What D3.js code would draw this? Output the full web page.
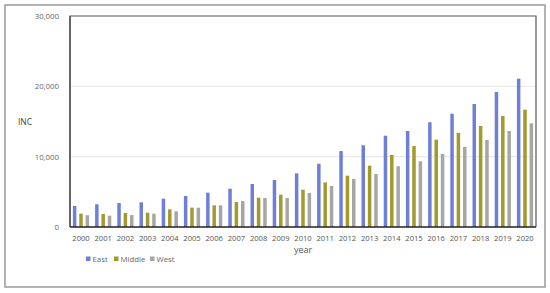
<!DOCTYPE html>
<html>
<head>
<meta charset="utf-8">
<script src="https://cdn.jsdelivr.net/npm/d3@7"></script>
<style>
  body { margin: 0; background: #fff; }
  text { font-family: "Open Sans", "DejaVu Sans", sans-serif; }
</style>
</head>
<body>
<svg id="chart" width="550" height="293"></svg>
<script>
const years = ["2000","2001","2002","2003","2004","2005","2006","2007","2008","2009","2010",
  "2011","2012","2013","2014","2015","2016","2017","2018","2019","2020"];
const series = ["East", "Middle", "West"];
const east = [3000, 3230, 3410, 3510, 4030, 4410, 4880, 5450, 6110, 6680, 7630,
  9000, 10800, 11620, 12980, 13650, 14890, 16110, 17490, 19200, 21090];
const middle = [1900, 1850, 2000, 2030, 2510, 2750, 3080, 3550, 4170, 4600, 5310,
  6350, 7300, 8720, 10240, 11520, 12420, 13370, 14360, 15780, 16680];
const west = [1680, 1610, 1700, 1900, 2230, 2750, 3080, 3700, 4120, 4120, 4830,
  5830, 6830, 7540, 8630, 9340, 10380, 11370, 12370, 13650, 14740];
const yTicks = [0, 10000, 20000, 30000];
const colors = ["#6f7fd6", "#a39a2c", "#a6a6a6"];

const values = [east, middle, west];
const svg = d3.select("#chart");

// outer frame
svg.append("rect")
  .attr("x", 5).attr("y", 5).attr("width", 540).attr("height", 282)
  .attr("fill", "none").attr("stroke", "#9a9a9a").attr("stroke-width", 1.5);

const plotLeft = 70, plotRight = 536, plotTop = 16, plotBottom = 227;

const x = d3.scaleBand().domain(years).range([plotLeft, plotRight]).paddingInner(0.27).paddingOuter(0.13);
const xs = d3.scaleBand().domain(series).range([0, x.bandwidth()]).paddingInner(0.45);
const y = d3.scaleLinear().domain([0, 30000]).range([plotBottom, plotTop]);

// gridlines
svg.append("g")
  .selectAll("line")
  .data(yTicks.slice(1, 3))
  .join("line")
  .attr("x1", plotLeft).attr("x2", plotRight)
  .attr("y1", d => y(d)).attr("y2", d => y(d))
  .attr("stroke", "#e6e6e6").attr("stroke-width", 1);

// bars
const groups = svg.append("g")
  .selectAll("g")
  .data(years)
  .join("g")
  .attr("transform", d => `translate(${x(d)},0)`);

groups.selectAll("rect")
  .data((d, i) => series.map((s, k) => ({ s, v: values[k][i], k })))
  .join("rect")
  .attr("x", d => xs(d.s))
  .attr("width", xs.bandwidth())
  .attr("y", d => y(d.v))
  .attr("height", d => plotBottom - y(d.v))
  .attr("fill", d => colors[d.k]);

// plot frame
svg.append("path")
  .attr("d", `M${plotLeft},${plotBottom}V${plotTop}H${plotRight}V${plotBottom}`)
  .attr("fill", "none").attr("stroke", "#555").attr("stroke-width", 1.2);
svg.append("line")
  .attr("x1", plotLeft).attr("x2", plotLeft).attr("y1", plotTop).attr("y2", plotBottom)
  .attr("stroke", "#666").attr("stroke-width", 2);
svg.append("line")
  .attr("x1", plotLeft).attr("x2", plotRight).attr("y1", plotBottom).attr("y2", plotBottom)
  .attr("stroke", "#222").attr("stroke-width", 1.5);

// y axis
const yAxis = svg.append("g")
  .attr("transform", `translate(${plotLeft - 8},0)`)
  .call(d3.axisLeft(y).tickValues(yTicks).tickFormat(d3.format(",")).tickSize(0));
yAxis.select(".domain").remove();
yAxis.selectAll("text").attr("font-size", 7.8).attr("fill", "#666").attr("dx", 0);

// x axis
const xAxis = svg.append("g")
  .attr("transform", `translate(0,${plotBottom + 6})`)
  .call(d3.axisBottom(x).tickSize(0));
xAxis.select(".domain").remove();
xAxis.selectAll("text").attr("font-size", 7.6).attr("fill", "#555");

// axis titles
svg.append("text").attr("x", 18).attr("y", 125)
  .attr("font-size", 8.5).attr("fill", "#444").text("INC");
svg.append("text").attr("x", 303).attr("y", 253).attr("text-anchor", "middle")
  .attr("font-size", 9).attr("fill", "#555").text("year");

// legend
const legendX = [86, 114, 150];
const legend = svg.append("g")
  .selectAll("g")
  .data(series)
  .join("g")
  .attr("transform", (d, i) => `translate(${legendX[i]},259)`);
legend.append("rect")
  .attr("x", 0).attr("y", -2.5).attr("width", 4.5).attr("height", 4.5)
  .attr("fill", (d, i) => colors[i]);
legend.append("text")
  .attr("x", 6.5).attr("y", 3)
  .attr("font-size", 7.8).attr("fill", "#666")
  .text(d => d);
</script>
</body>
</html>
